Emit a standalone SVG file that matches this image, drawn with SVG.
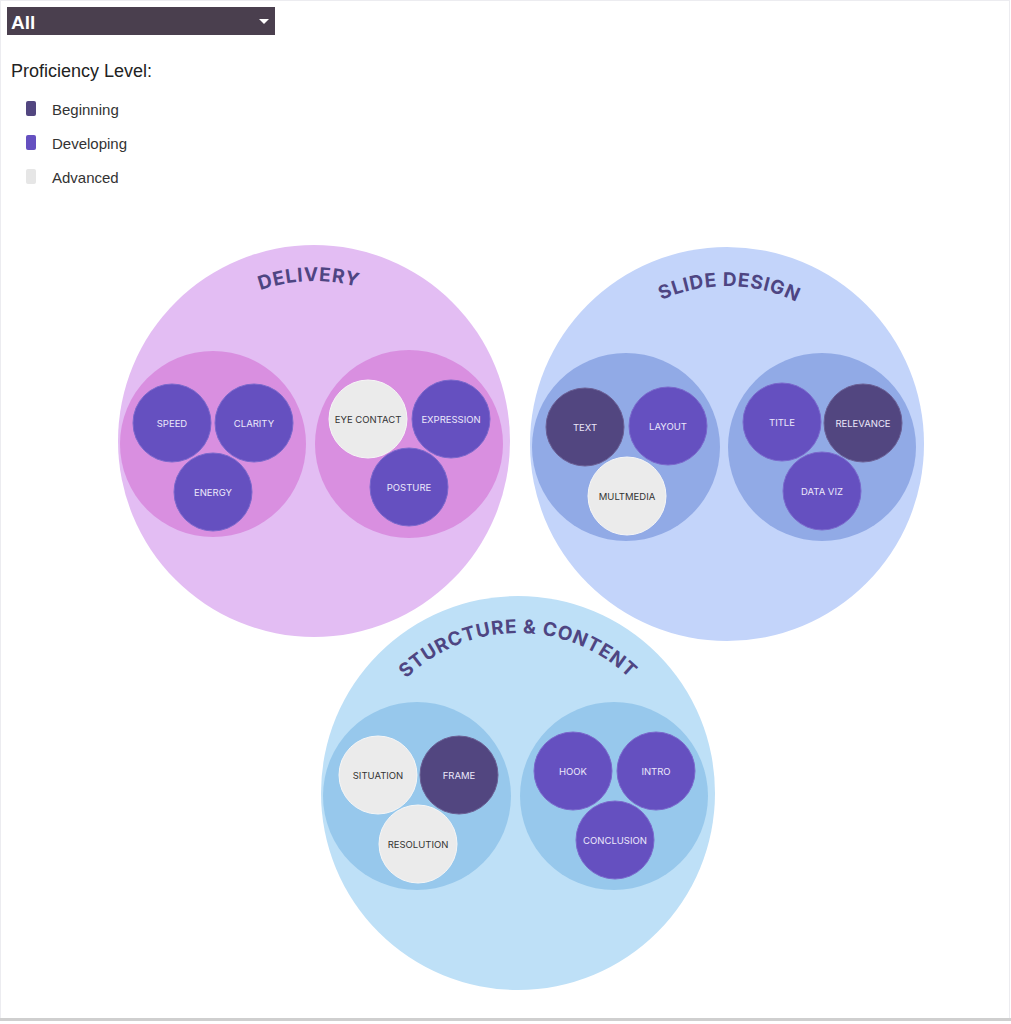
<svg xmlns="http://www.w3.org/2000/svg" width="1011" height="1024" viewBox="0 0 1011 1024">
<defs>
<style>
.leaf text{font-family:Inter,"Liberation Sans",sans-serif;font-size:9.5px;text-anchor:middle;dominant-baseline:central}
.dev circle{fill:#6550c0;stroke:#7a68cc;stroke-width:1}
.beg circle{fill:#524680;stroke:#6a5f94;stroke-width:1}
.adv circle{fill:#ebebeb;stroke:#f6f6f6;stroke-width:1}
.dev text,.beg text{fill:#ece8fb}
.adv text{fill:#333}
.title{font-family:Inter,"Liberation Sans",sans-serif;font-weight:700;font-size:19px;fill:#4e4582;letter-spacing:0.8px}
.legend{font-family:"Liberation Sans",Arial,sans-serif;font-size:15px;fill:#333}
</style>
<path id="arcD" d="M154,441 A160,160 0 0 1 474,441"/>
<path id="arcS" d="M569,444 A158,158 0 0 1 885,444"/>
<path id="arcC" d="M358,793 A160,160 0 0 1 678,793"/>
</defs>
<rect x="0" y="0" width="1011" height="1024" fill="#fff"/>
<rect x="0.5" y="0.5" width="1009" height="1019" fill="none" stroke="#ececf0" stroke-width="1"/>
<rect x="0" y="1018" width="1011" height="3" fill="#cfcfcf"/>

<g id="dropdown">
<rect x="7" y="7" width="268" height="28" fill="#4a3f4e"/>
<text x="11" y="29" font-family="'Liberation Sans',Arial,sans-serif" font-weight="bold" font-size="19" fill="#fff">All</text>
<path d="M259,19 L269,19 L264,24 Z" fill="#fff"/>
</g>

<g id="legend">
<text x="11" y="77" font-family="'Liberation Sans',Arial,sans-serif" font-size="18" fill="#222">Proficiency Level:</text>
<rect x="26" y="101" width="10" height="15" rx="2" fill="#524680"/>
<text class="legend" x="52" y="115">Beginning</text>
<rect x="26" y="135" width="10" height="15" rx="2" fill="#6550c0"/>
<text class="legend" x="52" y="149">Developing</text>
<rect x="26" y="169" width="10" height="15" rx="2" fill="#e6e6e6"/>
<text class="legend" x="52" y="183">Advanced</text>
</g>

<g id="delivery">
<circle cx="314" cy="441" r="196" fill="#e3bdf3"/>
<text class="title"><textPath href="#arcD" startOffset="49%" text-anchor="middle">DELIVERY</textPath></text>
<circle cx="213" cy="444" r="93" fill="#d98fe0"/>
<circle cx="409" cy="444" r="94" fill="#d98fe0"/>
<g id="speed" class="leaf dev"><circle cx="172" cy="423" r="39"/><text x="172" y="423">SPEED</text></g>
<g id="clarity" class="leaf dev"><circle cx="254" cy="423" r="39"/><text x="254" y="423">CLARITY</text></g>
<g id="energy" class="leaf dev"><circle cx="213" cy="492" r="39"/><text x="213" y="492">ENERGY</text></g>
<g id="eyecontact" class="leaf adv"><circle cx="368" cy="419" r="39"/><text x="368" y="419">EYE CONTACT</text></g>
<g id="expression" class="leaf dev"><circle cx="451" cy="419" r="39"/><text x="451" y="419">EXPRESSION</text></g>
<g id="posture" class="leaf dev"><circle cx="409" cy="487" r="39"/><text x="409" y="487">POSTURE</text></g>
</g>

<g id="slidedesign">
<circle cx="727" cy="444" r="197" fill="#c3d4fa"/>
<text class="title"><textPath href="#arcS" startOffset="50.5%" text-anchor="middle">SLIDE DESIGN</textPath></text>
<circle cx="626" cy="447" r="94" fill="#91aae6"/>
<circle cx="822" cy="447" r="94" fill="#91aae6"/>
<g id="text" class="leaf beg"><circle cx="585" cy="427" r="39"/><text x="585" y="427">TEXT</text></g>
<g id="layout" class="leaf dev"><circle cx="668" cy="426" r="39"/><text x="668" y="426">LAYOUT</text></g>
<g id="multmedia" class="leaf adv"><circle cx="627" cy="496" r="39"/><text x="627" y="496">MULTMEDIA</text></g>
<g id="title" class="leaf dev"><circle cx="782" cy="422" r="39"/><text x="782" y="422">TITLE</text></g>
<g id="relevance" class="leaf beg"><circle cx="863" cy="423" r="39"/><text x="863" y="423">RELEVANCE</text></g>
<g id="dataviz" class="leaf dev"><circle cx="822" cy="491" r="39"/><text x="822" y="491">DATA VIZ</text></g>
</g>

<g id="structure">
<circle cx="518" cy="793" r="197" fill="#bee0f7"/>
<text class="title"><textPath href="#arcC" startOffset="50%" text-anchor="middle">STURCTURE &amp; CONTENT</textPath></text>
<circle cx="417" cy="796" r="94" fill="#97c8ec"/>
<circle cx="614" cy="796" r="94" fill="#97c8ec"/>
<g id="situation" class="leaf adv"><circle cx="378" cy="775" r="39"/><text x="378" y="775">SITUATION</text></g>
<g id="frame" class="leaf beg"><circle cx="459" cy="775" r="39"/><text x="459" y="775">FRAME</text></g>
<g id="resolution" class="leaf adv"><circle cx="418" cy="844" r="39"/><text x="418" y="844">RESOLUTION</text></g>
<g id="hook" class="leaf dev"><circle cx="573" cy="771" r="39"/><text x="573" y="771">HOOK</text></g>
<g id="intro" class="leaf dev"><circle cx="656" cy="771" r="39"/><text x="656" y="771">INTRO</text></g>
<g id="conclusion" class="leaf dev"><circle cx="615" cy="840" r="39"/><text x="615" y="840">CONCLUSION</text></g>
</g>

<g id="connectors"></g>
</svg>
